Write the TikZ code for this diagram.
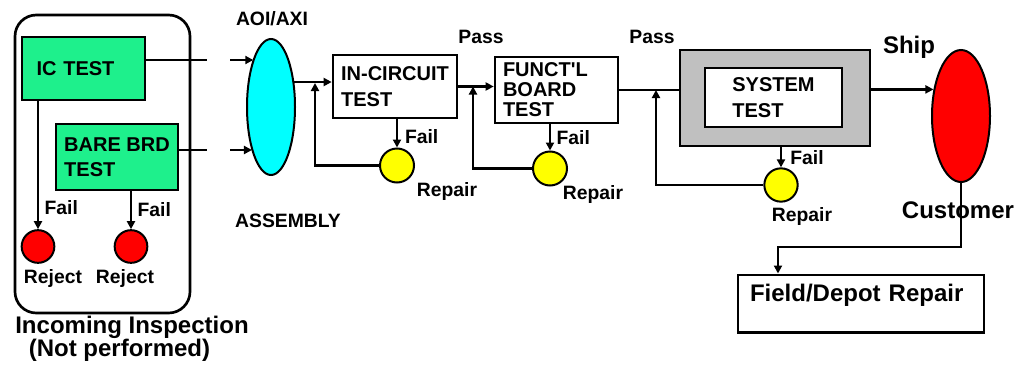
\documentclass[tikz,border=0pt]{standalone}
\usepackage{fontspec}
\setmainfont{Liberation Sans}
\usepackage{tikz}
\usetikzlibrary{shapes.geometric, arrows.meta, positioning}
\definecolor{boardgreen}{RGB}{30,240,140}
\definecolor{aoicyan}{RGB}{0,255,255}
\definecolor{custred}{RGB}{255,0,0}
\definecolor{repairyellow}{RGB}{255,255,0}
\definecolor{sysgray}{RGB}{192,192,192}
\tikzset{
  block/.style={rectangle, draw, line width=2pt, align=left, inner xsep=6pt,
    font=\bfseries\fontsize{15}{19}\selectfont},
  testblock/.style={block, fill=boardgreen},
  disc/.style={circle, draw, line width=1.5pt, minimum size=25.5pt, inner sep=0pt},
  rejectdisc/.style={disc, fill=custred, minimum size=24.5pt},
  repairdisc/.style={disc, fill=repairyellow},
  tag/.style={font=\bfseries\fontsize{14.5}{17}\selectfont, inner sep=0pt},
  bigtag/.style={font=\bfseries\fontsize{18}{22}\selectfont, inner sep=0pt},
  link/.style={line width=2pt},
  arrow/.style={-{Triangle[length=6pt, width=6pt]}, line width=2pt},
}
\begin{document}
\begin{tikzpicture}[x=0.75pt, y=-0.75pt]
  \useasboundingbox (0,0) rectangle (1018,368);
  \node[draw, line width=2pt, rounded corners=16pt, minimum width=131.25pt,
        minimum height=223.5pt] (insp) at (102.5,164) {};
  \node[testblock, minimum width=92.25pt, minimum height=47.25pt,
        text width=70.25pt, inner xsep=11pt] (ic) at (83.5,68.5) {IC TEST};
  \node[testblock, minimum width=91.5pt, minimum height=49.5pt]
    (bare) at (117,157) {BARE BRD\\TEST};
  \node[rejectdisc] (rej1) at (38,246.5) {};
  \node[rejectdisc] (rej2) at (131,246.5) {};
  \node[tag] (rejlbl1) at (53,278) {Reject};
  \node[tag] (rejlbl2) at (125,278) {Reject};
  \node[bigtag] (insplbl) at (132,327) {Incoming Inspection};
  \node[bigtag] (nplbl) at (119.5,350) {(Not performed)};

  \node[ellipse, draw, line width=1.5pt, fill=aoicyan, minimum width=36pt,
        minimum height=102pt, inner sep=0pt] (aoi) at (271,107) {};
  \node[tag] (aoilbl) at (272,19) {AOI/AXI};
  \node[tag] (asmlbl) at (288,221) {ASSEMBLY};

  \node[block, minimum width=93pt, minimum height=47.25pt]
    (ict) at (395,86.5) {IN-CIRCUIT\\TEST};
  \node[repairdisc] (rep1) at (397,165.5) {};
  \node[tag] (replbl1) at (447,191) {Repair};
  \node[tag] (pass1) at (481,37) {Pass};

  \node[block, minimum width=92.25pt, minimum height=49.5pt, text width=80.25pt,
        font=\bfseries\fontsize{15}{15}\selectfont]
    (fbt) at (556.5,90) {FUNCT\textquotesingle L\\BOARD\\TEST};
  \node[repairdisc] (rep2) at (550,168.5) {};
  \node[tag] (replbl2) at (593,194) {Repair};
  \node[tag] (pass2) at (652,37) {Pass};

  \node[draw, line width=2pt, fill=sysgray, minimum width=142.5pt,
        minimum height=72pt] (sys) at (775,98) {};
  \node[block, fill=white, minimum width=102.75pt, minimum height=44.25pt]
    (sysin) at (773.5,97.5) {SYSTEM\\TEST};
  \node[repairdisc, minimum size=25pt] (rep3) at (781,185) {};
  \node[tag] (replbl3) at (802,216) {Repair};

  \node[ellipse, draw, line width=1.5pt, fill=custred, minimum width=43.5pt,
        minimum height=99pt, inner sep=0pt] (cust) at (961,116) {};
  \node[bigtag] (shiplbl) at (909,47) {Ship};
  \node[bigtag] (custlbl) at (958,210) {Customer};
  \node[block, minimum width=184.5pt, text width=166.5pt, inner xsep=9pt,
        inner ysep=7pt, text height=13pt, text depth=16pt,
        font=\bfseries\fontsize{18}{22}\selectfont]
    (field) at (861,303.5) {Field/Depot Repair};

  \coordinate (g1a) at (207,60);
  \coordinate (g1b) at (230,60);
  \coordinate (g2a) at (207,150);
  \coordinate (g2b) at (230,150);
  \coordinate (fb1) at (315,83);
  \coordinate (fb2) at (473,86.5);
  \coordinate (fb3) at (656,90);
  \coordinate (dep) at (778,247);

  \draw[arrow] (rej1 |- ic.south) -- (rej1.north)
    node[tag, pos=0.835, right=4pt] {Fail};
  \draw[arrow] (rej2 |- bare.south) -- (rej2.north)
    node[tag, pos=0.47, right=4pt] {Fail};
  \draw[link] (ic.east |- g1a) -- (g1a);
  \draw[link] (bare.east |- g2a) -- (g2a);
  \draw[arrow] (g1b) -- (g1b -| aoi.110);
  \draw[arrow] (g2b) -- (g2b -| aoi.247);
  \draw[arrow] (aoi.47) -- (aoi.47 -| ict.west);
  \draw[arrow] (rep1 |- ict.south) -- (rep1.north)
    node[tag, pos=0.63, right=5pt] {Fail};
  \draw[arrow] (rep1.west) -| (fb1);
  \draw[arrow] (ict.east) -- (ict.east -| fbt.west);
  \draw[arrow] (rep2 |- fbt.south) -- (rep2.north)
    node[tag, pos=0.49, right=4pt] {Fail};
  \draw[arrow] (rep2.west) -| (fb2);
  \draw[link] (fbt.east) -- (fbt.east -| sys.west);
  \draw[arrow] (rep3 |- sys.south) -- (rep3.north)
    node[tag, pos=0.53, right=6pt] {Fail};
  \draw[arrow] (rep3.west) -| (fb3);
  \draw[arrow] (sys.east |- cust.136) -- (cust.136);
  \draw[arrow] (cust.south) |- (dep) -- (dep |- field.north);
\end{tikzpicture}
\end{document}
